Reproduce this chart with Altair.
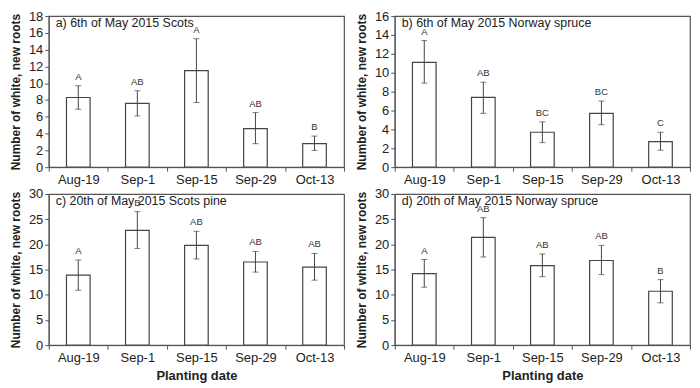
import altair as alt
import pandas as pd

dates = ["Aug-19", "Sep-1", "Sep-15", "Sep-29", "Oct-13"]

a_mean = [8.3, 7.6, 11.5, 4.6, 2.8]
a_lo = [6.9, 6.1, 7.7, 2.8, 2.0]
a_hi = [9.7, 9.1, 15.3, 6.5, 3.7]
a_let = ["A", "AB", "A", "AB", "B"]

b_mean = [11.1, 7.4, 3.7, 5.7, 2.7]
b_lo = [8.9, 5.7, 2.6, 4.5, 1.8]
b_hi = [13.4, 9.0, 4.8, 7.0, 3.7]
b_let = ["A", "AB", "BC", "BC", "C"]

c_mean = [13.9, 22.8, 19.8, 16.5, 15.5]
c_lo = [10.9, 19.2, 17.1, 14.5, 12.9]
c_hi = [16.9, 26.5, 22.6, 18.6, 18.2]
c_let = ["A", "B", "AB", "AB", "AB"]

d_mean = [14.2, 21.4, 15.8, 16.8, 10.7]
d_lo = [11.5, 17.5, 13.6, 14.0, 8.4]
d_hi = [17.0, 25.3, 18.1, 19.8, 13.0]
d_let = ["A", "AB", "AB", "AB", "B"]

titles = [
    "a) 6th of May 2015 Scots",
    "b) 6th of May 2015 Norway spruce",
    "c) 20th of May 2015 Scots pine",
    "d) 20th of May 2015 Norway spruce",
]

FONT = "Liberation Sans"
W, H = 297, 152
DARK = "#444444"


def panel(mean, lo, hi, letters, title, ymax, step, xtitle):
    df = pd.DataFrame({"date": dates, "mean": mean, "lo": lo, "hi": hi, "let": letters})
    xaxis = alt.Axis(
        title="Planting date" if xtitle else None,
        labelAngle=0,
        tickBand="extent",
        labelFontSize=13,
        labelPadding=2,
        titleFontSize=13,
        titleFontWeight="bold",
        titlePadding=6,
    )
    yaxis = alt.Axis(
        title="Number of white, new roots",
        values=[float(v) for v in range(0, ymax + 1, step)],
        tickCount=len(range(0, ymax + 1, step)),
        labelOverlap=False,
        grid=False,
        labelFontSize=13,
        titleFontSize=12,
        titleFontWeight="bold",
        titlePadding=6,
    )
    scale_x = alt.Scale(paddingInner=0, paddingOuter=0)
    scale_y = alt.Scale(domain=[0, ymax], nice=False)

    def X():
        return alt.X("date:N", sort=dates, scale=scale_x, axis=xaxis)

    def Y(field):
        return alt.Y(field, scale=scale_y, axis=yaxis)

    base = alt.Chart(df)
    bars = base.mark_bar(
        fill="white", stroke=DARK, strokeWidth=1.2, width=alt.RelativeBandSize(0.4)
    ).encode(x=X(), y=Y("mean:Q"))
    err = base.mark_rule(color=DARK, strokeWidth=1).encode(
        x=X(), y=Y("lo:Q"), y2="hi:Q"
    )
    cap_hi = base.mark_tick(color=DARK, size=6, thickness=1).encode(x=X(), y=Y("hi:Q"))
    cap_lo = base.mark_tick(color=DARK, size=6, thickness=1).encode(x=X(), y=Y("lo:Q"))
    txt = base.mark_text(
        font=FONT, fontSize=9.5, baseline="bottom", dy=-4, color="#333333"
    ).encode(x=X(), y=Y("hi:Q"), text="let:N")
    ttl = alt.Chart(pd.DataFrame({"t": [title]})).mark_text(
        font=FONT, fontSize=12.5, align="left", baseline="middle", color="#222"
    ).encode(x=alt.value(7), y=alt.value(7), text="t:N")
    return alt.layer(bars, err, cap_hi, cap_lo, txt, ttl).properties(width=W, height=H)


pa = panel(a_mean, a_lo, a_hi, a_let, titles[0], 18, 2, False)
pb = panel(b_mean, b_lo, b_hi, b_let, titles[1], 16, 2, False)
pc = panel(c_mean, c_lo, c_hi, c_let, titles[2], 30, 5, True)
pd_ = panel(d_mean, d_lo, d_hi, d_let, titles[3], 30, 5, True)

chart = (
    alt.vconcat(
        alt.hconcat(pa, pb, spacing=8),
        alt.hconcat(pc, pd_, spacing=8),
        spacing=0,
    )
    .properties(padding=0, background="white")
    .configure_view(stroke="#555555", strokeWidth=1.2)
    .configure_axis(
        labelFont=FONT,
        titleFont=FONT,
        labelColor="#222",
        titleColor="#222",
        domainColor="#555555",
        tickColor="#555555",
        tickSize=4,
    )
)

chart.save("out.html", embed_options={"renderer": "svg", "actions": False})
